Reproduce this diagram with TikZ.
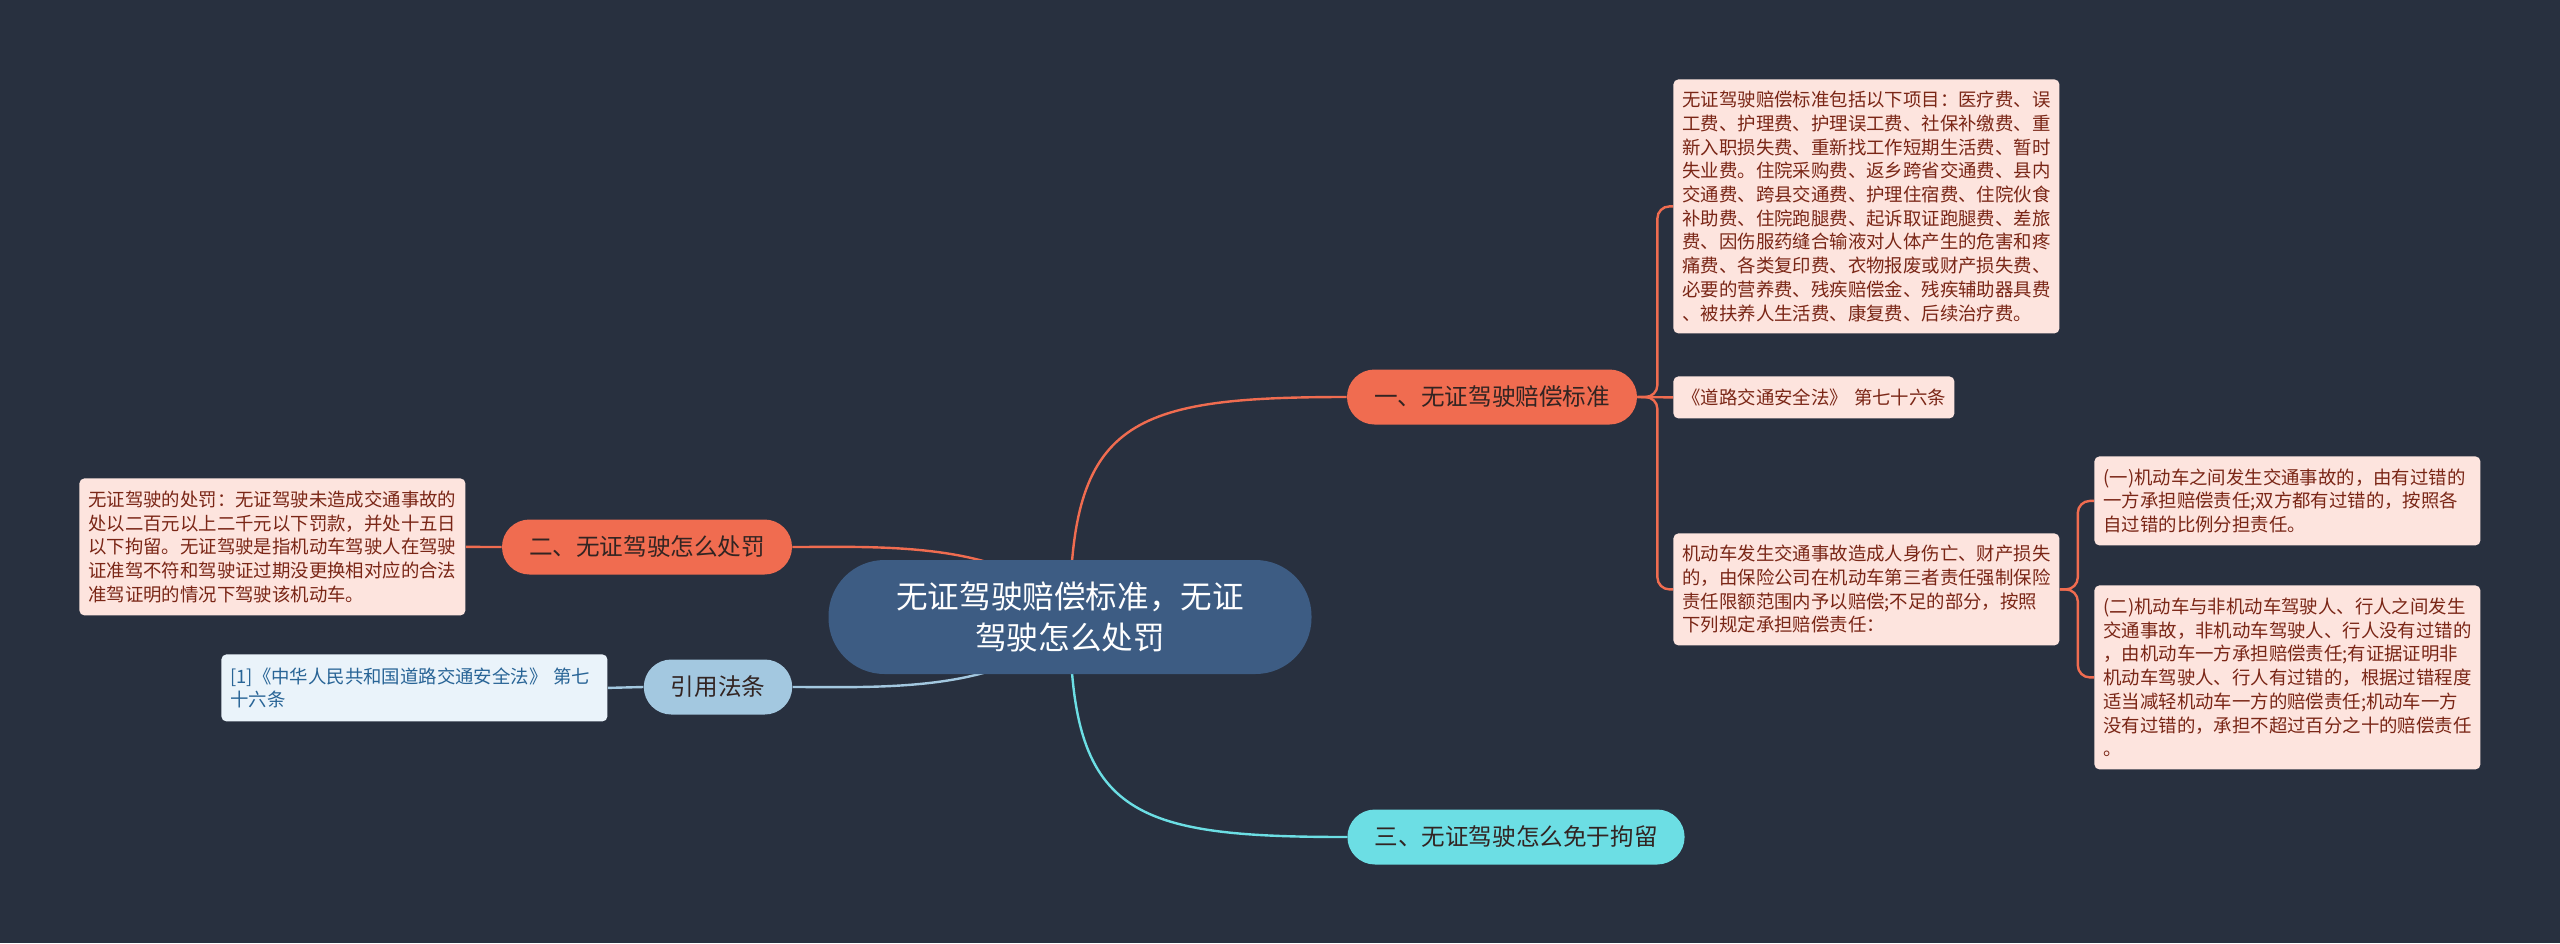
\documentclass[tikz,border=0pt]{standalone}
\usepackage{fontspec}
\setmainfont{Noto Sans CJK SC}
\usetikzlibrary{backgrounds}

\definecolor{bgslate}{RGB}{40,48,63}
\definecolor{rootblue}{RGB}{61,92,131}
\definecolor{salmon}{RGB}{240,108,80}
\definecolor{aqua}{RGB}{108,222,228}
\definecolor{skyblue}{RGB}{163,200,224}
\definecolor{leafpink}{RGB}{253,228,222}
\definecolor{leaftext}{RGB}{122,38,22}
\definecolor{refleaf}{RGB}{234,243,250}
\definecolor{reftext}{RGB}{40,100,150}
\definecolor{darktext}{RGB}{50,36,34}

\tikzset{
  rootnode/.style={fill=rootblue, text=white, rounded corners=28pt, minimum width=241.5pt, minimum height=57pt, align=center, font=\fontsize{15.8pt}{20.5pt}\selectfont},
  topicnode/.style={rounded corners=13.75pt, minimum height=27.5pt, inner xsep=13.5pt, inner ysep=0pt, text=darktext, font=\fontsize{11.8pt}{14pt}\selectfont},
  leafnode/.style={anchor=north west, fill=leafpink, text=leaftext, rounded corners=2.5pt, inner xsep=4.5pt, inner ysep=0pt, text width=184pt, align=left, font=\fontsize{9.2pt}{11.85pt}\selectfont},
  link/.style={line width=1.2pt},
}

\begin{document}
\begin{tikzpicture}[x=0.5pt,y=0.5pt,yscale=-1]
\useasboundingbox (0,0) rectangle (2560,943);

% Root
\draw (1070,617) node [rootnode] (root) {无证驾驶赔偿标准，无证\\驾驶怎么处罚};

% Topic Nodes
\draw (1492,397) node [topicnode, fill=salmon] (pay) {一、无证驾驶赔偿标准};
\draw (647,547) node [topicnode, fill=salmon] (fine) {二、无证驾驶怎么处罚};
\draw (1516,837) node [topicnode, fill=aqua] (detain) {三、无证驾驶怎么免于拘留};
\draw (718,687) node [topicnode, fill=skyblue] (cite) {引用法条};

% Text Node
\draw (1673,79) node [leafnode, minimum height=127pt] (items) {无证驾驶赔偿标准包括以下项目：医疗费、误\\工费、护理费、护理误工费、社保补缴费、重\\新入职损失费、重新找工作短期生活费、暂时\\失业费。住院采购费、返乡跨省交通费、县内\\交通费、跨县交通费、护理住宿费、住院伙食\\补助费、住院跑腿费、起诉取证跑腿费、差旅\\费、因伤服药缝合输液对人体产生的危害和疼\\痛费、各类复印费、衣物报废或财产损失费、\\必要的营养费、残疾赔偿金、残疾辅助器具费\\、被扶养人生活费、康复费、后续治疗费。};
% Text Node
\draw (1673,376) node [leafnode, minimum height=21pt, text width=131.5pt] (law) {\mbox{《道路交通安全法》 第七十六条}};
% Text Node
\draw (1673,533) node [leafnode, minimum height=56pt] (rule) {机动车发生交通事故造成人身伤亡、财产损失\\的，由保险公司在机动车第三者责任强制保险\\责任限额范围内予以赔偿;不足的部分，按照\\下列规定承担赔偿责任：};
% Text Node
\draw (2094,456) node [leafnode, minimum height=44.5pt] (rulea) {(一)机动车之间发生交通事故的，由有过错的\\一方承担赔偿责任;双方都有过错的，按照各\\自过错的比例分担责任。};
% Text Node
\draw (2094,585) node [leafnode, minimum height=92pt] (ruleb) {(二)机动车与非机动车驾驶人、行人之间发生\\交通事故，非机动车驾驶人、行人没有过错的\\，由机动车一方承担赔偿责任;有证据证明非\\机动车驾驶人、行人有过错的，根据过错程度\\适当减轻机动车一方的赔偿责任;机动车一方\\没有过错的，承担不超过百分之十的赔偿责任\\。};
% Text Node
\draw (79,478) node [leafnode, minimum height=68.5pt] (penalty) {无证驾驶的处罚：无证驾驶未造成交通事故的\\处以二百元以上二千元以下罚款，并处十五日\\以下拘留。无证驾驶是指机动车驾驶人在驾驶\\证准驾不符和驾驶证过期没更换相对应的合法\\准驾证明的情况下驾驶该机动车。};
% Text Node
\draw (221,654) node [leafnode, minimum height=33.5pt, fill=refleaf, text=reftext] (source) {\mbox{[1]《中华人民共和国道路交通安全法》 第七}\\十六条};

\begin{pgfonlayer}{background}
\fill [bgslate] (0,0) rectangle (2560,943);
%Curve Lines
\draw [link, salmon] (root.center) .. controls (1070,420) and (1130,397) .. (pay.west);
\draw [link, salmon] (root.center) .. controls (1020,540) and (880,547) .. (fine.east);
\draw [link, skyblue] (root.center) .. controls (1020,694) and (880,687) .. (cite.east);
\draw [link, aqua] (root.center) .. controls (1070,815) and (1130,837) .. (detain.west);
%Straight Lines
\draw [link, salmon, rounded corners=6pt] (pay.east) -- ++(20,0) |- (items.west);
\draw [link, salmon] (pay.east) -- (law.west);
\draw [link, salmon, rounded corners=6pt] (pay.east) -- ++(20,0) |- (rule.west);
\draw [link, salmon, rounded corners=6pt] (rule.east) -- ++(18,0) |- (rulea.west);
\draw [link, salmon, rounded corners=6pt] (rule.east) -- ++(18,0) |- (ruleb.west);
\draw [link, salmon] (fine.west) -- (penalty.east);
\draw [link, skyblue] (cite.west) -- (source.east);
\end{pgfonlayer}

\end{tikzpicture}
\end{document}
